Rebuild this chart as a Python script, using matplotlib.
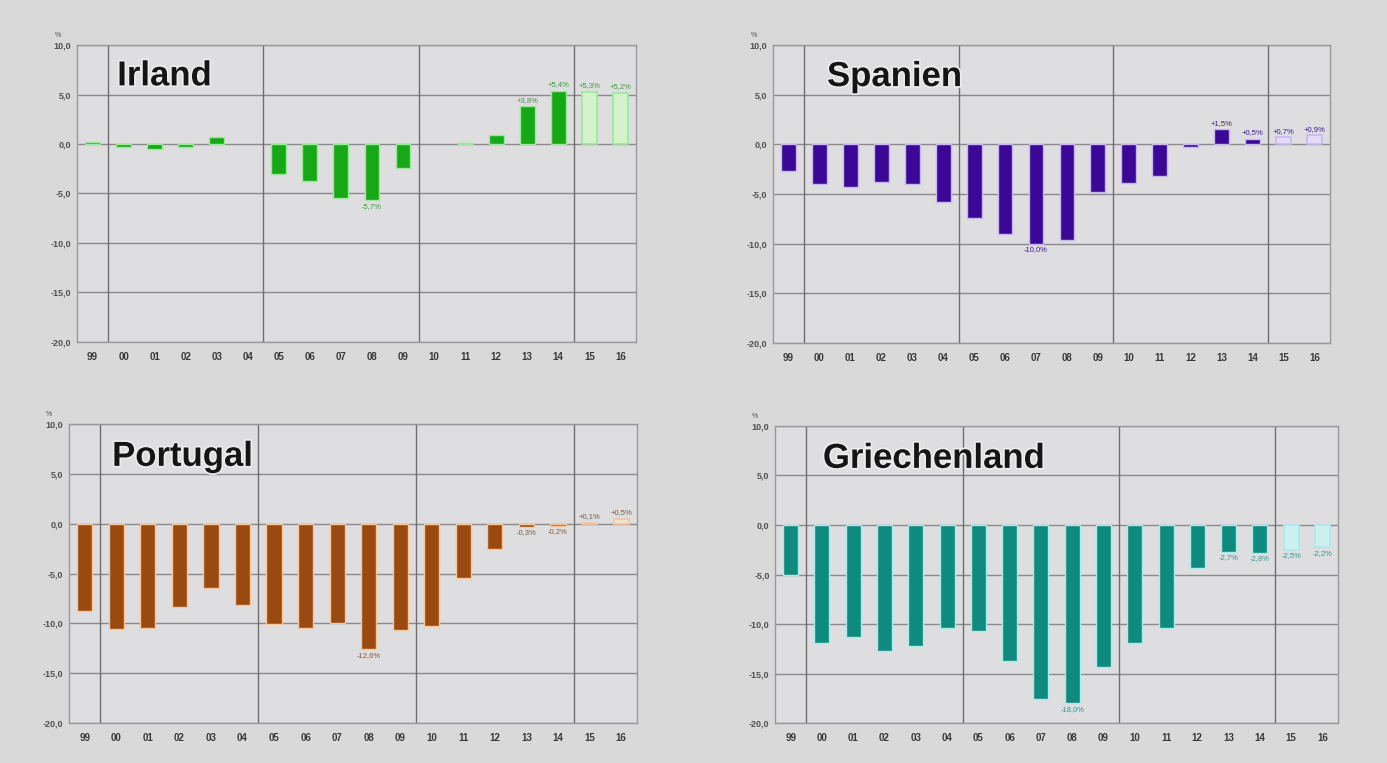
import matplotlib
matplotlib.use("Agg")
import matplotlib.pyplot as plt
import matplotlib.patheffects as pe
import numpy as np

plt.rcParams["font.family"] = ["Liberation Sans", "DejaVu Sans"]

# Current account balance, % of GDP (15 and 16 are forecasts)
years = ["99", "00", "01", "02", "03", "04", "05", "06", "07", "08",
         "09", "10", "11", "12", "13", "14", "15", "16"]

irland = [0.2, -0.3, -0.5, -0.3, 0.7, 0.0, -3.0, -3.7, -5.5, -5.7,
          -2.4, 0.0, 0.1, 0.9, 3.8, 5.4, 5.3, 5.2]
spanien = [-2.7, -4.0, -4.3, -3.8, -4.0, -5.8, -7.4, -9.0, -10.0, -9.6,
           -4.8, -3.9, -3.2, -0.3, 1.5, 0.5, 0.7, 0.9]
portugal = [-8.8, -10.6, -10.5, -8.4, -6.5, -8.2, -10.1, -10.5, -10.0, -12.6,
            -10.7, -10.3, -5.5, -2.5, -0.3, -0.2, 0.1, 0.5]
griechenland = [-5.0, -11.9, -11.3, -12.7, -12.2, -10.4, -10.7, -13.7, -17.6, -18.0,
                -14.3, -11.9, -10.4, -4.3, -2.7, -2.8, -2.5, -2.2]

y_ticks = [10, 5, 0, -5, -10, -15, -20]
n_forecast = 2

panels = [
    # name, values, bar colour, halo colour, forecast fill, label colour, labelled indices, axes rect
    ("Irland", irland, "#17a817", "#9be89b", "#d4f2cc", "#3a9a3a",
     [9, 14, 15, 16, 17], [0.0555, 0.5518, 0.4030, 0.3892]),
    ("Spanien", spanien, "#3b0796", "#c9b8f0", "#e4dcf4", "#3b1a86",
     [8, 14, 15, 16, 17], [0.5573, 0.5505, 0.4016, 0.3906]),
    ("Portugal", portugal, "#9a4a10", "#f5c79a", "#f0e2d2", "#7a5a40",
     [9, 14, 15, 16, 17], [0.0497, 0.0524, 0.4095, 0.3919]),
    ("Griechenland", griechenland, "#0f8a7e", "#a9ecec", "#ccf0ee", "#2a9a90",
     [9, 14, 15, 16, 17], [0.5588, 0.0524, 0.4059, 0.3893]),
]

title_pos = {"Irland": (0.072, 0.864), "Spanien": (0.097, 0.862),
             "Portugal": (0.076, 0.86), "Griechenland": (0.085, 0.859)}

fig = plt.figure(figsize=(13.87, 7.63), dpi=100)
fig.patch.set_facecolor("#d9d9da")

x = np.arange(len(years))


def fmt(v):
    return f"{v:+.1f}".replace(".", ",") + "%"


for name, vals, col, halo, fc_fill, lab_col, labelled, rect in panels:
    ax = fig.add_axes(rect)
    ax.set_facecolor("#dedee0")
    ax.set_xlim(-0.5, len(years) - 0.5)
    ax.set_ylim(-20, 10)

    vals = np.asarray(vals)
    n_actual = len(vals) - n_forecast
    # zero-valued years get no outline, so nothing is drawn for them
    lw_actual = [1.0 if v != 0 else 0 for v in vals[:n_actual]]
    ax.bar(x[:n_actual], vals[:n_actual], width=0.48, color=col,
           edgecolor=halo, linewidth=lw_actual, zorder=3)
    ax.bar(x[n_actual:], vals[n_actual:], width=0.48, color=fc_fill,
           edgecolor=halo, linewidth=1.2, zorder=3)

    # horizontal grid and period separators
    for yv in y_ticks:
        ax.axhline(yv, color="#8a8a8c", lw=1.0, zorder=1)
    for xv in [0.5, 5.5, 10.5, 15.5]:
        ax.axvline(xv, color="#6f6f72", lw=1.0, zorder=1)

    for s in ax.spines.values():
        s.set_color("#9a9a9c")
        s.set_linewidth(1.0)

    ax.set_yticks(y_ticks)
    ax.set_yticklabels([f"{v:.1f}".replace(".", ",") for v in y_ticks],
                       fontsize=6.5, fontweight="bold", color="#505050")
    ax.set_xticks(x)
    ax.set_xticklabels(years, fontsize=7, fontweight="bold", color="#383838")
    ax.tick_params(length=0, pad=7)
    ax.tick_params(axis="y", pad=4)

    ax.text(-0.035, 1.02, "%", transform=ax.transAxes, fontsize=5,
            color="#505050", ha="center", va="bottom")

    for i in labelled:
        v = vals[i]
        if v >= 0:
            ax.annotate(fmt(v), (x[i], v), xytext=(0, 2),
                        textcoords="offset points", ha="center", va="bottom",
                        fontsize=5.5, color=lab_col, zorder=4)
        else:
            ax.annotate(fmt(v), (x[i], v), xytext=(0, -2),
                        textcoords="offset points", ha="center", va="top",
                        fontsize=5.5, color=lab_col, zorder=4)

    tx, ty = title_pos[name]
    ax.text(tx, ty, name, transform=ax.transAxes, fontsize=25,
            fontweight="bold", color="#151515", ha="left", va="baseline",
            zorder=5,
            path_effects=[pe.withStroke(linewidth=2.5, foreground="#ececec")])

fig.savefig("out.png", dpi=100, facecolor=fig.get_facecolor())
